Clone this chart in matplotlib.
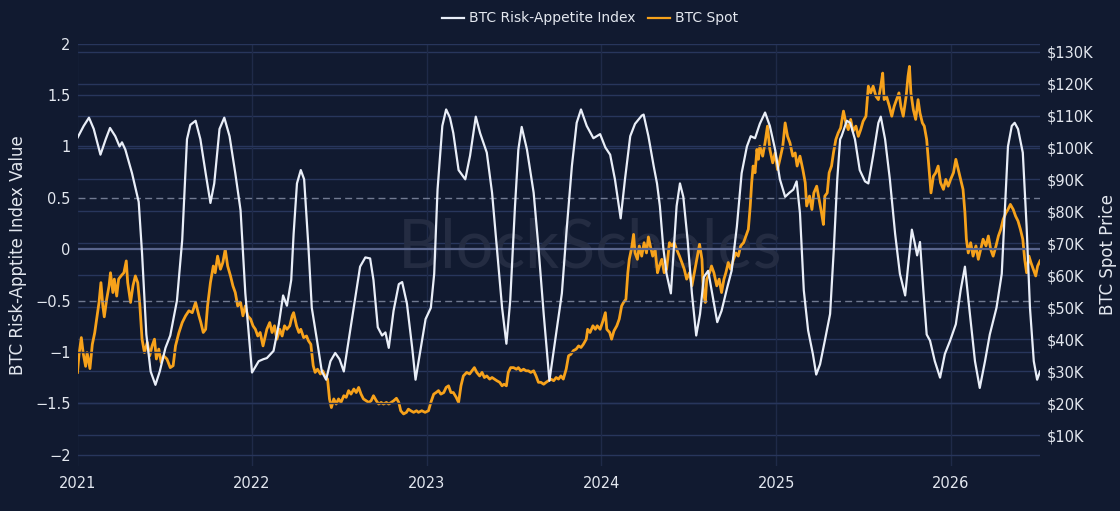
import matplotlib
matplotlib.use('Agg')
import matplotlib.pyplot as plt
import matplotlib.dates as mdates
from matplotlib.ticker import FuncFormatter, FixedLocator
from matplotlib.lines import Line2D
import pandas as pd

# ---------------- data ----------------
start_date = '2021-01-01'

# BTC Risk-Appetite Index: day offset from start_date, index value
risk_day = [0, 13, 24, 34, 48, 59, 68, 79, 88, 93, 100, 114, 128, 135, 144, 153, 163, 172, 184, 194,
            208, 219, 229, 236, 247, 257, 268, 278, 286, 297, 307, 318, 330, 341, 351, 365, 379,
            389, 396, 410, 421, 430, 438, 447, 452, 459, 467, 474, 483, 490, 501, 511, 520, 529,
            539, 548, 557, 567, 581, 591, 602, 612, 619, 628, 637, 644, 651, 661, 672, 679, 689,
            700, 707, 718, 728, 739, 746, 753, 763, 771, 779,
            786, 797, 811, 821, 833, 842, 856, 867, 877, 888, 897, 905, 915, 922, 929, 940, 954,
            964, 975, 987, 999, 1013, 1023, 1034, 1044, 1053, 1065, 1079, 1093, 1104, 1114, 1124,
            1136, 1145, 1156, 1166, 1180,
            1184, 1194, 1205, 1212, 1218, 1225, 1232, 1241, 1246, 1253, 1260, 1267, 1276, 1285,
            1294, 1302, 1310, 1319, 1330, 1338, 1347, 1359, 1368, 1379, 1389, 1400, 1408, 1417,
            1427, 1438, 1448, 1459, 1469, 1480, 1489, 1497, 1504, 1511, 1519, 1528, 1538, 1545,
            1553, 1563, 1574, 1582, 1589, 1595,
            1598, 1609, 1616, 1626, 1636, 1647, 1654, 1664, 1675, 1680, 1689, 1699, 1710, 1720,
            1731, 1737, 1745, 1751, 1756, 1762, 1769, 1776, 1783, 1793, 1804, 1814, 1825, 1837,
            1847, 1856, 1865, 1877, 1887, 1898, 1908, 1922, 1933, 1940, 1946, 1954, 1960, 1967,
            1977, 1985, 1992, 2000, 2007, 2013]
risk_value = [1.085, 1.20, 1.28, 1.17, 0.92, 1.07, 1.18, 1.10, 1.00, 1.04, 0.97, 0.74, 0.46, -0.04,
              -0.83, -1.19, -1.32, -1.19, -0.96, -0.84,
              -0.50, 0.09, 1.07, 1.21, 1.25, 1.07, 0.74, 0.45, 0.64, 1.17, 1.28, 1.10, 0.74, 0.38,
              -0.43, -1.20, -1.09,
              -1.07, -1.06, -0.99, -0.73, -0.45, -0.55, -0.30, 0.15, 0.64, 0.77, 0.68, 0.02, -0.57,
              -0.89, -1.19, -1.27, -1.09,
              -1.01, -1.07, -1.19, -0.89, -0.47, -0.17, -0.08, -0.09, -0.30, -0.76, -0.84, -0.81,
              -0.96, -0.60, -0.34, -0.32, -0.53,
              -0.96, -1.27, -0.96, -0.68, -0.57, -0.24, 0.58, 1.20, 1.36, 1.28,
              1.13, 0.77, 0.68, 0.91, 1.29, 1.13, 0.94, 0.55, 0.02, -0.57, -0.92, -0.50, 0.42, 0.97,
              1.19, 0.97, 0.55,
              0.02, -0.63, -1.28, -0.89, -0.43, 0.19, 0.81, 1.23, 1.36, 1.20, 1.08, 1.12, 0.99, 0.92,
              0.68,
              0.30, 0.68, 1.10, 1.22, 1.30,
              1.31, 1.10, 0.81, 0.64, 0.42, 0.02, -0.24, -0.43, -0.08, 0.42, 0.64, 0.51, 0.09, -0.43,
              -0.84, -0.63, -0.27, -0.21, -0.50, -0.71, -0.60, -0.37, -0.21, 0.22, 0.74, 1.00, 1.10,
              1.08,
              1.22, 1.33, 1.20, 0.97, 0.68, 0.51, 0.55, 0.58, 0.66, 0.35, -0.40, -0.79, -1.02, -1.22,
              -1.12, -0.89, -0.63, 0.02, 0.68, 1.07,
              1.10, 1.25, 1.23, 1.07, 0.77, 0.66, 0.64, 0.91, 1.23, 1.29, 1.07, 0.68, 0.15, -0.24,
              -0.45, -0.17, 0.19, 0.06, -0.06, 0.07, -0.40, -0.83, -0.89, -1.09, -1.25, -1.02, -0.89,
              -0.73,
              -0.40, -0.17, -0.57, -1.09, -1.35, -1.09, -0.83, -0.57, -0.24, 0.42, 1.00, 1.20, 1.23,
              1.17,
              0.94, 0.22, -0.57, -1.09, -1.27, -1.19]

# BTC Spot price (thousand USD): day offset from start_date, price
spot_day = [0, 3, 8, 12, 17, 20, 26, 31, 36, 40, 45, 49, 53, 56, 61, 66, 69, 74, 77, 82, 86, 91, 97,
            102, 105, 111, 116, 121, 126, 130, 135, 140, 146, 151, 156, 161, 165, 170, 175, 180,
            187, 194, 200, 205, 212, 219, 226, 233, 240, 247, 254, 258, 263, 268, 272, 278, 284,
            288, 293, 299, 304, 309, 314, 320, 325, 330, 335, 341, 346, 351, 356, 362, 367, 372,
            377, 382,
            388, 396, 402, 407, 412, 417, 423, 428, 433, 438, 444, 449, 452, 458, 463, 467, 473,
            479, 483, 488, 493, 497, 502, 508, 513, 518, 523, 527, 531, 536, 541, 546, 551, 557,
            562, 567, 572, 578, 583, 588, 593, 598, 604, 609, 614, 619, 625, 630, 635, 640, 646,
            651, 656, 661, 667, 672, 676, 682, 688, 692, 697, 703, 709, 713, 720, 727, 734, 739,
            745, 750, 755, 760, 766, 771, 776, 781,
            786, 792, 797, 802, 807, 814, 820, 825, 830, 835, 841, 846, 851, 856, 862, 867, 872,
            877, 883, 888, 892, 897, 901, 906, 912, 918, 922, 927, 933, 938, 943, 948, 954, 959,
            964, 969, 975, 980, 985, 990, 996, 1001, 1006, 1011, 1016, 1022, 1027, 1032, 1037,
            1043, 1048, 1053, 1058, 1064, 1067, 1072, 1078, 1083, 1087, 1093, 1099, 1104, 1107,
            1113, 1117, 1122, 1128, 1133, 1138, 1142, 1147, 1151, 1154, 1159, 1163, 1166, 1171,
            1175,
            1180, 1185, 1190, 1194, 1198, 1203, 1208, 1213, 1217, 1222, 1227, 1232, 1238, 1243,
            1248, 1253, 1259, 1264, 1269, 1274, 1280, 1285, 1290, 1295, 1301, 1306, 1309, 1313,
            1316, 1322, 1326, 1331, 1337, 1342, 1347, 1352, 1356, 1361, 1366, 1372, 1377, 1382,
            1387, 1393, 1398, 1403, 1407, 1410, 1413, 1417, 1421, 1424, 1427, 1433, 1438, 1443,
            1448, 1454, 1459, 1464, 1469, 1475, 1480, 1485, 1490, 1496, 1501, 1505, 1511, 1517,
            1522, 1525, 1531, 1536, 1540, 1546, 1551, 1556, 1560, 1563, 1568, 1572, 1577,
            1581, 1586, 1591, 1596, 1602, 1607, 1612, 1617, 1622, 1628, 1633, 1638, 1643, 1649,
            1654, 1659, 1664, 1670, 1675, 1680, 1684, 1687, 1692, 1698, 1703, 1708, 1713, 1718,
            1722, 1727, 1733, 1737, 1740, 1743, 1748, 1753, 1758, 1762, 1767, 1771, 1776, 1781,
            1785, 1790, 1795, 1800, 1805, 1811, 1816, 1821, 1826, 1832, 1837, 1842, 1847, 1852,
            1856, 1859, 1863, 1868, 1873, 1879, 1884, 1889, 1894, 1900, 1905, 1910, 1915, 1921,
            1926, 1931, 1936, 1942, 1946, 1951, 1957, 1962, 1967, 1972, 1977, 1981, 1985, 1990,
            1994, 1999, 2004, 2008, 2013]
spot_price_k = [29.6, 35.0, 40.5, 35.5, 31.5, 35.8, 30.8, 38.4, 42.0, 46.3, 51.5, 57.7, 50.4, 47.0,
                52.5, 56.7, 60.8, 54.6, 58.8, 53.5, 58.8, 59.8, 60.8,
                64.5, 57.7, 51.5, 56.7, 59.8, 57.7, 51.5, 40.0, 35.8, 39.0, 34.8, 37.9, 40.0, 33.8,
                36.9, 32.7, 34.8,
                33.8, 31.1, 31.7, 37.9, 42.0, 45.2, 47.3, 48.9, 48.3, 51.5, 47.3, 45.2, 42.1, 43.1,
                50.4, 57.7, 62.9,
                60.8, 66.0, 61.9, 64.0, 68.1, 62.9, 59.8, 56.7, 54.6, 50.4, 51.5, 47.3, 50.4, 47.3,
                46.3, 44.2, 43.1,
                41.0, 42.1,
                37.9, 43.1, 45.2, 42.1, 44.2, 40.0, 43.1, 41.0, 44.2, 43.1, 44.2, 47.3, 48.3, 44.2,
                42.1, 43.1, 40.5,
                41.0, 39.5, 38.4, 31.7, 29.6, 30.6, 29.1, 30.1, 28.5, 27.5, 21.3, 18.6, 21.3, 19.7,
                21.3, 20.2, 22.3,
                21.8, 23.9, 22.8, 24.4, 23.3, 24.9, 22.8, 21.3, 20.7, 20.2, 20.7, 22.3, 20.7, 19.7,
                20.2, 19.7, 20.2,
                19.7, 20.2, 20.7, 21.5, 20.2, 17.6, 16.6, 17.1, 18.1, 17.6, 17.1, 17.6, 17.1, 17.6,
                17.1, 17.6, 20.2,
                22.8, 23.3, 23.9, 22.8, 23.3, 24.9, 25.4, 23.3,
                23.3, 21.8, 20.2, 25.4, 28.5, 29.6, 29.1, 30.1, 31.1, 29.6, 28.5, 29.6, 28.0, 28.5,
                27.5, 28.0, 27.5,
                27.0, 26.5, 25.4, 25.9, 25.4, 29.6, 31.1, 31.1, 30.6, 31.1, 30.1, 30.6, 30.1, 30.1,
                29.6, 30.1, 28.5,
                26.5, 26.5, 25.9, 26.5, 27.0, 27.5, 27.0, 28.0, 27.5, 28.5, 27.5, 30.6, 34.8, 35.3,
                36.4,
                36.9, 37.9, 37.4, 38.4, 40.0, 43.1, 42.1, 44.2, 43.1, 44.2, 43.1, 45.7, 48.3, 43.1,
                42.1, 40.0, 42.6, 44.2, 46.3, 50.4, 51.5, 52.5, 60.8, 65.0, 68.6, 72.8, 67.0, 65.0,
                69.2,
                66.0, 70.2, 67.0, 72.0, 69.2, 66.0, 68.1, 60.8, 62.9, 65.0, 60.8, 61.9, 70.2, 69.2,
                70.2, 68.1, 66.0, 64.0, 61.9, 58.8, 60.8, 56.7, 60.8, 65.0, 69.7, 65.0, 54.6, 51.5,
                58.8, 60.8, 62.9, 60.8, 56.7, 58.8, 54.6, 58.8, 60.8, 64.0, 61.9, 65.0, 67.0, 66.0,
                69.2, 70.2, 72.3, 74.4, 81.7, 89.0, 94.2, 92.1, 99.4, 96.3, 100.4, 97.3, 101.5, 106.7,
                99.4, 95.2, 98.3, 93.1, 96.3, 100.4, 107.7, 103.5, 101.5, 97.3, 98.3, 94.2, 97.3, 93.1,
                89.0, 81.7, 84.8, 80.6, 85.8, 87.9, 83.8, 79.6, 75.9, 84.8, 85.8, 92.1, 94.2,
                98.3, 102.5, 104.6, 106.1, 111.4, 107.7, 105.6, 108.8, 105.1, 106.7, 103.5, 105.6,
                108.2, 109.8,
                119.2, 117.1, 119.2, 116.0, 115.0, 119.2, 123.3, 115.0, 116.0, 112.9, 109.8, 112.9,
                115.0, 117.1,
                112.9, 109.8, 116.0, 122.3, 125.4, 117.1, 111.9, 108.8, 115.0, 110.8, 107.7, 106.7,
                102.5, 93.1,
                85.8, 91.0, 92.1, 94.2, 89.0, 86.9, 90.0, 87.9, 90.0, 92.1, 96.3, 93.1, 90.0, 86.9,
                79.6, 71.3, 67.0, 70.2, 66.0, 69.2, 65.0, 68.1, 71.3, 69.2, 72.3, 68.1, 66.0, 69.2,
                72.3, 74.4, 77.5, 79.6, 80.6, 82.2, 80.6, 78.5, 77.0, 74.4, 71.3, 65.0, 60.8, 66.0,
                64.0, 61.9, 59.8, 62.9, 64.5]

year_ticks = ['2021', '2022', '2023', '2024', '2025', '2026']
left_ticks = [-2, -1.5, -1, -0.5, 0, 0.5, 1, 1.5, 2]
right_ticks_k = [10, 20, 30, 40, 50, 60, 70, 80, 90, 100, 110, 120, 130]
band_levels = [-0.5, 0.5]

series_names = ['BTC Risk-Appetite Index', 'BTC Spot']
left_title = 'BTC Risk-Apptite Index Value'
right_title = 'BTC Spot Price'
watermark = 'BlockScholes'

# ---------------- styling ----------------
BG = '#111a30'
GRID = '#28365c'
VGRID = '#1f2a48'
ZERO = '#5a668e'
TXT = '#e3e7ef'
WHITE = '#e9eef8'
ORANGE = '#f7a21b'

plt.rcParams['font.family'] = ['DejaVu Sans']

base = pd.Timestamp(start_date)
risk_x = base + pd.to_timedelta(risk_day, unit='D')
spot_x = base + pd.to_timedelta(spot_day, unit='D')

W, H = 1120, 511
fig = plt.figure(figsize=(W / 100, H / 100), dpi=100, facecolor=BG)
left_px, right_px, top_px, bot_px = 77.5, 1040, 43.7, 466
# ax2: right axis (spot), drawn below; ax: left axis (risk), drawn above
ax2 = fig.add_axes([left_px / W, 1 - bot_px / H, (right_px - left_px) / W, (bot_px - top_px) / H])
ax2.set_facecolor(BG)
ax = ax2.twinx()
ax.set_zorder(ax2.get_zorder() + 1)
ax.patch.set_visible(False)

ax2.yaxis.tick_right()
ax2.yaxis.set_label_position('right')
ax.yaxis.tick_left()
ax.yaxis.set_label_position('left')

ax2.set_ylim(0.3, 132.5)
ax.set_ylim(-2.11, 2.0)
ax2.set_xlim(risk_x.min(), spot_x.max())

# grids
for k in right_ticks_k:
    ax2.axhline(k, color=GRID, lw=1.0, zorder=0)
ax.set_yticks(left_ticks)
for v in left_ticks:
    if v == 0:
        ax.axhline(v, color=ZERO, lw=1.6, zorder=0.5)
    elif v not in band_levels:
        ax.axhline(v, color=GRID, lw=1.0, zorder=0.5)
for v in band_levels:
    ax.axhline(v, color='#8a93aa', lw=1.0, ls=(0, (5, 3)), alpha=0.8, zorder=0.6)

year_dates = [pd.Timestamp(y + '-01-01') for y in year_ticks]
for d in year_dates:
    ax2.axvline(d, color=VGRID, lw=1.0, zorder=0)

# watermark
ax2.text(0.533, 0.514, watermark, transform=ax2.transAxes, ha='center', va='center',
         fontsize=48, color='#242c42', family=['Lato', 'DejaVu Sans'], zorder=0.2)

# series
ax2.plot(spot_x, spot_price_k, color=ORANGE, lw=2.0, zorder=2)
ax.plot(risk_x, risk_value, color=WHITE, lw=1.6, zorder=3)

# ticks
ax2.xaxis.set_major_locator(FixedLocator(mdates.date2num(year_dates)))
ax2.xaxis.set_major_formatter(mdates.DateFormatter('%Y'))
ax2.tick_params(axis='x', colors=TXT, labelsize=10.5, length=0, pad=7)
ax.tick_params(axis='x', length=0, labelbottom=False)

ax.set_yticklabels([('%g' % v).replace('-', '\u2212') for v in left_ticks])
ax.tick_params(axis='y', colors=TXT, labelsize=10.5, length=0, pad=5)
ax2.set_yticks(right_ticks_k)
ax2.yaxis.set_major_formatter(FuncFormatter(lambda v, p: '$%dK' % v))
ax2.tick_params(axis='y', colors=TXT, labelsize=10.5, length=0, pad=5)

for a in (ax, ax2):
    for s in a.spines.values():
        s.set_visible(False)

ax.set_ylabel(left_title, color=TXT, fontsize=12, labelpad=6)
ax2.set_ylabel(right_title, color=TXT, fontsize=12, labelpad=4)

# legend
handles = [Line2D([], [], color=WHITE, lw=1.6), Line2D([], [], color=ORANGE, lw=1.6)]
fig.legend(handles, series_names, loc='center', bbox_to_anchor=(0.527, 0.964), ncol=2,
           frameon=False, fontsize=10, handlelength=1.6, handletextpad=0.35,
           columnspacing=0.9, labelcolor=TXT)

fig.savefig('out.png', dpi=100, facecolor=BG)
